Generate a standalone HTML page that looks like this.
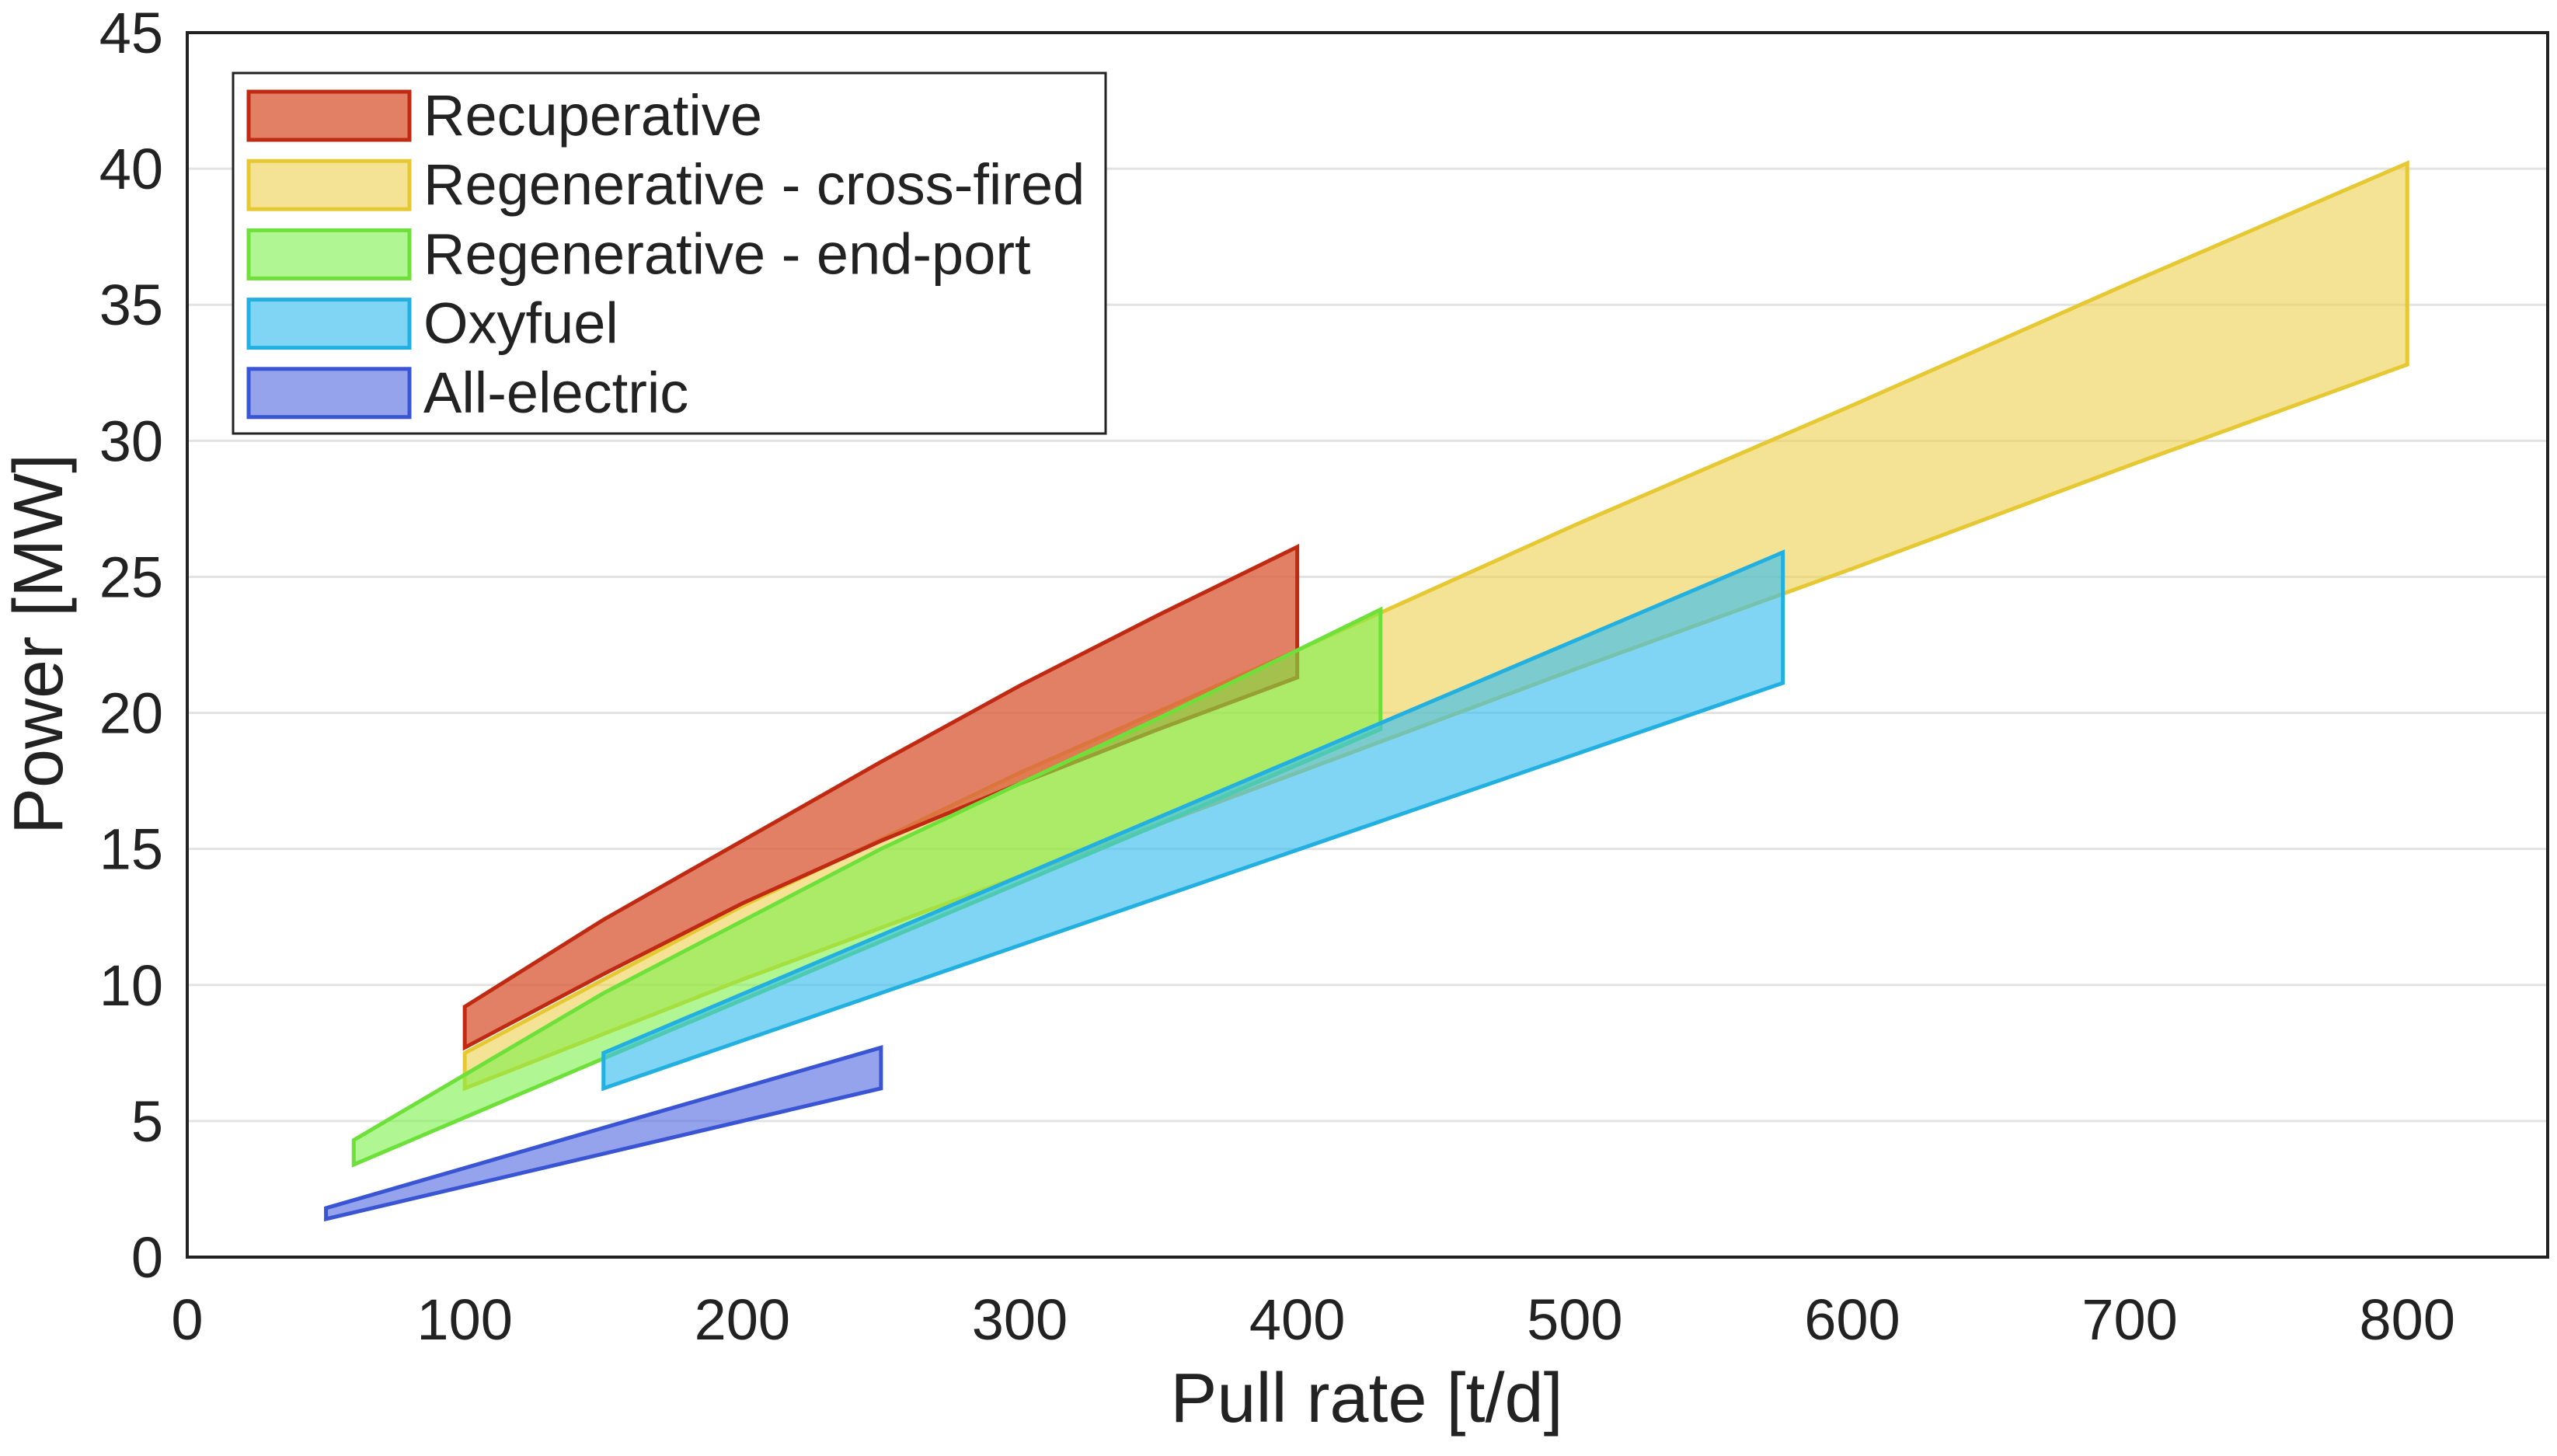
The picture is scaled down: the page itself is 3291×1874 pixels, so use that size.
<!DOCTYPE html>
<html><head><meta charset="utf-8"><style>
html,body{margin:0;padding:0;background:#fff;}
svg{display:block;font-family:"Liberation Sans",Arial,sans-serif;}
</style></head><body>
<svg id="chart" width="3291" height="1874" viewBox="0 0 3291 1874" xmlns="http://www.w3.org/2000/svg">
<g id="grid"></g>
<g id="series"></g>
<rect x="241" y="42" width="3038" height="1576" fill="none" stroke="#222" stroke-width="4"/>
<g id="yticks"></g>
<g id="xticks"></g>
<text x="1759" y="1830" font-size="90" text-anchor="middle" fill="#222">Pull rate [t/d]</text>
<text transform="translate(80,829) rotate(-90)" font-size="90" text-anchor="middle" fill="#222">Power [MW]</text>
<g id="legend">
<rect x="300" y="94" width="1123" height="464" fill="#fff" stroke="#222" stroke-width="3"/>
</g>
</svg>
<script>
const xTicks=[0,100,200,300,400,500,600,700,800];
const yTicks=[0,5,10,15,20,25,30,35,40,45];
const names=["Recuperative","Regenerative - cross-fired","Regenerative - end-port","Oxyfuel","All-electric"];
const recX=[100,150,200,250,300,350,400];
const recUp=[9.2,12.4,15.3,18.2,21.0,23.6,26.1];
const recLo=[7.7,10.4,13.0,15.3,17.4,19.4,21.3];
const crossX=[100,200,300,400,500,600,700,800];
const crossUp=[7.5,12.9,17.8,22.3,26.9,31.3,35.8,40.2];
const crossLo=[6.2,10.2,14.0,17.8,21.6,25.3,29.1,32.8];
const endX=[60,150,250,350,430];
const endUp=[4.3,9.7,15.0,19.8,23.8];
const endLo=[3.4,7.3,11.6,15.9,19.4];
const oxyX=[150,575];
const oxyUp=[7.5,25.9];
const oxyLo=[6.2,21.1];
const elecX=[50,250];
const elecUp=[1.8,7.7];
const elecLo=[1.4,6.2];
const NS="http://www.w3.org/2000/svg";
const X0=241,X1=3279,Y0=1618,Y1=42,XMAX=850.6,YMAX=45;
const sx=v=>X0+(X1-X0)*v/XMAX;
const sy=v=>Y0-(Y0-Y1)*v/YMAX;
function mk(tag,attrs,parent){const e=document.createElementNS(NS,tag);for(const k in attrs)e.setAttribute(k,attrs[k]);parent.appendChild(e);return e;}
const grid=document.getElementById('grid'),yt=document.getElementById('yticks'),xt=document.getElementById('xticks');
yTicks.forEach(v=>{
 if(v>0&&v<45){const l=mk('line',{x1:X0,x2:X1,y1:sy(v),y2:sy(v),stroke:'#e3e3e3','stroke-width':3},grid);
 
 }
 const t=mk('text',{x:210,y:sy(v)+26,'font-size':74,'text-anchor':'end',fill:'#222'},yt);t.textContent=v;
 
 
});
xTicks.forEach(v=>{
 const t=mk('text',{x:sx(v),y:1724,'font-size':74,'text-anchor':'middle',fill:'#222'},xt);t.textContent=v;
 
 
});
const styles=[
 {fill:'#d9603f',stroke:'#c02a12',op:0.8},
 {fill:'#ecd14d',stroke:'#e5c832',op:0.6},
 {fill:'#7cf04a',stroke:'#6de03a',op:0.6},
 {fill:'#3cbfee',stroke:'#22b0e0',op:0.65},
 {fill:'#4d66e0',stroke:'#3a55d4',op:0.6}];
const data=[[crossX,crossUp,crossLo,1],[recX,recUp,recLo,0],[endX,endUp,endLo,2],[oxyX,oxyUp,oxyLo,3],[elecX,elecUp,elecLo,4]];
const sg=document.getElementById('series');
const slugs=['band-recuperative','band-cross-fired','band-end-port','band-oxyfuel','band-all-electric'];
data.forEach(([xs,up,lo,i])=>{
 let pts=xs.map((x,k)=>sx(x)+','+sy(up[k]));
 for(let k=xs.length-1;k>=0;k--)pts.push(sx(xs[k])+','+sy(lo[k]));
 const s=styles[i];
 const p=mk('polygon',{points:pts.join(' '),fill:s.fill,'fill-opacity':s.op,stroke:s.stroke,'stroke-width':5,'stroke-linejoin':'miter'},sg);
 
 
});
const lg=document.getElementById('legend');
names.forEach((n,i)=>{
 const y=149+i*89.2;const s=styles[i];
 const r=mk('rect',{x:320,y:y-31,width:207,height:62,fill:s.fill,'fill-opacity':s.op,stroke:s.stroke,'stroke-width':5},lg);
 
 
 const t=mk('text',{x:545,y:y+25,'font-size':74,fill:'#222'},lg);t.textContent=n;
 
 
});
</script>
</body></html>
